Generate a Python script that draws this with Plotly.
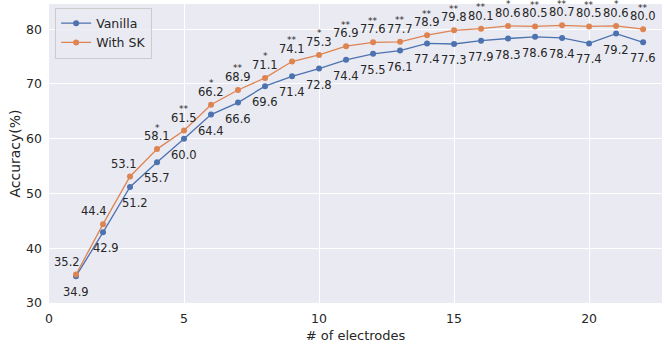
import plotly.graph_objects as go

electrodes = list(range(1, 23))
vanilla = [34.9, 42.9, 51.2, 55.7, 60.0, 64.4, 66.6, 69.6, 71.4, 72.8, 74.4, 75.5,
           76.1, 77.4, 77.3, 77.9, 78.3, 78.6, 78.4, 77.4, 79.2, 77.6]
with_sk = [35.2, 44.4, 53.1, 58.1, 61.5, 66.2, 68.9, 71.1, 74.1, 75.3, 76.9, 77.6,
           77.7, 78.9, 79.8, 80.1, 80.6, 80.5, 80.7, 80.5, 80.6, 80.0]
stars = ["", "", "", "*", "**", "*", "**", "*", "**", "*", "**", "**",
         "**", "**", "**", "**", "*", "**", "**", "**", "*", "**"]

BLUE = "#4C72B0"
ORANGE = "#DD8452"
TXT = "#262626"
FONT = "DejaVu Sans"

# small horizontal nudges for crowded early labels (pixels)
sk_xshift = [-9, -9, -6] + [0] * 19
va_xshift = [0, 3, 5] + [0] * 19

fig = go.Figure()
fig.add_trace(go.Scatter(x=electrodes, y=vanilla, mode="lines+markers", name="Vanilla",
                         line=dict(color=BLUE, width=1.3), marker=dict(size=6, color=BLUE)))
fig.add_trace(go.Scatter(x=electrodes, y=with_sk, mode="lines+markers", name="With SK",
                         line=dict(color=ORANGE, width=1.3), marker=dict(size=6, color=ORANGE)))

ann = []
for i, x in enumerate(electrodes):
    ann.append(dict(x=x, y=vanilla[i], text=f"{vanilla[i]:.1f}", showarrow=False,
                    yshift=-16, xshift=va_xshift[i], font=dict(size=11.5, color=TXT, family=FONT)))
    ann.append(dict(x=x, y=with_sk[i], text=f"{with_sk[i]:.1f}", showarrow=False,
                    yshift=13, xshift=sk_xshift[i], font=dict(size=11.5, color=TXT, family=FONT)))
    if stars[i]:
        ann.append(dict(x=x, y=with_sk[i], text=stars[i], showarrow=False,
                        yshift=21.5, xshift=sk_xshift[i], font=dict(size=9, color=TXT, family=FONT)))

fig.update_layout(
    width=664, height=345,
    margin=dict(l=49, r=2, t=4, b=42),
    paper_bgcolor="white", plot_bgcolor="#EAEAF2",
    font=dict(family=FONT, size=12, color=TXT),
    annotations=ann,
    legend=dict(x=0.01, y=0.988, xanchor="left", yanchor="top",
                bgcolor="rgba(234,234,242,0.8)", bordercolor="#CCCCCC", borderwidth=1,
                font=dict(size=12.5, color=TXT, family=FONT), itemwidth=30),
    xaxis=dict(range=[0, 22.7], tickvals=[0, 5, 10, 15, 20], showgrid=True,
               gridcolor="white", gridwidth=1.2, zeroline=False, showline=False,
               ticks="", automargin=False, ticklabelstandoff=6,
               title=dict(text="# of electrodes", font=dict(size=13, color=TXT), standoff=6),
               tickfont=dict(size=12.5, color=TXT)),
    yaxis=dict(range=[30, 84.6], tickvals=[30, 40, 50, 60, 70, 80], showgrid=True,
               gridcolor="white", gridwidth=1.2, zeroline=False, showline=False,
               ticks="", automargin=False, ticklabelstandoff=6,
               title=dict(text="Accuracy(%)", font=dict(size=14, color=TXT), standoff=2),
               tickfont=dict(size=12.5, color=TXT)),
    showlegend=True,
)

fig.write_html("out.html", config={"displayModeBar": False},
               post_script="document.body.style.margin='0';document.body.style.overflow='hidden';")
